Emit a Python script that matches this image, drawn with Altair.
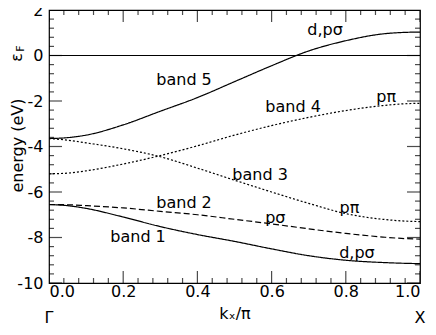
import altair as alt
import pandas as pd

# ---- data ----
k = [0.0, 0.05, 0.1, 0.2, 0.3, 0.4, 0.5, 0.6, 0.7, 0.8, 0.9, 0.95, 1.0]
band1 = [-6.55, -6.60, -6.72, -7.10, -7.52, -7.87, -8.17, -8.50, -8.80, -9.00, -9.10, -9.13, -9.15]
band2 = [-6.55, -6.56, -6.60, -6.70, -6.85, -7.00, -7.20, -7.40, -7.62, -7.82, -7.98, -8.04, -8.07]
band3 = [-3.65, -3.72, -3.84, -4.10, -4.45, -4.95, -5.48, -6.00, -6.50, -6.95, -7.20, -7.27, -7.30]
band4 = [-5.20, -5.17, -5.07, -4.77, -4.40, -3.97, -3.50, -3.08, -2.72, -2.42, -2.20, -2.13, -2.10]
band5 = [-3.65, -3.61, -3.50, -3.05, -2.45, -1.85, -1.15, -0.45, 0.20, 0.65, 0.95, 1.01, 1.03]

band_names = ["band 1", "band 2", "band 3", "band 4", "band 5"]
band_values = [band1, band2, band3, band4, band5]

label_text = ["band 5", "d,pσ", "band 4", "pπ", "band 3", "pπ", "band 2", "pσ", "band 1", "d,pσ"]
label_x = [0.364, 0.744, 0.658, 0.909, 0.569, 0.810, 0.364, 0.610, 0.240, 0.830]
label_y = [-1.08, 1.10, -2.26, -1.82, -5.25, -6.70, -6.48, -7.14, -7.98, -8.68]

x_major = [0.0, 0.2, 0.4, 0.6, 0.8, 1.0]
x_minor = [round(i * 0.04, 2) for i in range(26) if i % 5 != 0]
y_major = [-10, -8, -6, -4, -2, 0, 2]
y_minor = [round(-10 + i * 0.4, 1) for i in range(31) if i % 5 != 0]

point_text = ["Γ", "X"]
point_x = [0.0, 1.0]

# ---- build tables ----
rows = []
for name, vals in zip(band_names, band_values):
    for kx, e in zip(k, vals):
        rows.append({"band": name, "k": kx, "E": e})
bands = pd.DataFrame(rows)
labels = pd.DataFrame({"text": label_text, "k": label_x, "E": label_y})
xmaj = pd.DataFrame({"k": x_major})
xmin = pd.DataFrame({"k": x_minor})
ymaj = pd.DataFrame({"E": [float(v) for v in y_major]})
ymin = pd.DataFrame({"E": y_minor})
points = pd.DataFrame({"text": point_text, "k": point_x})
ef = pd.DataFrame({"E": [0.0]})

W, H = 371, 273
FONT = "DejaVu Sans"
FS = 16

xs = alt.Scale(domain=[0, 1], nice=False, zero=False)
ys = alt.Scale(domain=[-10, 2], nice=False, zero=False)

xaxis = alt.Axis(values=x_major, format=".1f", ticks=False, domain=False, grid=False,
                 labelFont=FONT, labelFontSize=FS, labelColor="black",
                 labelBaseline="alphabetic", labelPadding=13,
                 title="kₓ/π", titleFont=FONT, titleFontSize=FS, titleFontWeight="normal",
                 titleColor="black", titlePadding=6)
yaxis = alt.Axis(values=y_major, labelExpr="'' + datum.value", ticks=False, domain=False, grid=False,
                 labelFont=FONT, labelFontSize=FS, labelColor="black", labelPadding=6,
                 title=None)

lines = alt.Chart(bands).mark_line(color="black", strokeWidth=1.2, interpolate="monotone").encode(
    x=alt.X("k:Q", scale=xs, axis=xaxis),
    y=alt.Y("E:Q", scale=ys, axis=yaxis),
    detail="band:N",
    strokeDash=alt.StrokeDash("band:N", legend=None,
                              scale=alt.Scale(domain=band_names,
                                              range=[[1, 0], [6, 3], [2, 2], [2, 2], [1, 0]])),
)

fermi = alt.Chart(ef).mark_rule(color="black", strokeWidth=1.2).encode(
    y=alt.Y("E:Q", scale=ys), x=alt.value(0), x2=alt.value(W))

def tick_x(df, ypix, length):
    return alt.Chart(df).mark_tick(color="black", thickness=1.2, size=2 * length,
                                   orient="vertical", clip=True).encode(
        x=alt.X("k:Q", scale=xs), y=alt.value(ypix))

def tick_y(df, xpix, length):
    return alt.Chart(df).mark_tick(color="black", thickness=1.2, size=2 * length,
                                   orient="horizontal", clip=True).encode(
        y=alt.Y("E:Q", scale=ys), x=alt.value(xpix))

ticks = [
    tick_x(xmaj, H, 12), tick_x(xmin, H, 5),
    tick_x(xmaj, 0, 12), tick_x(xmin, 0, 5),
    tick_y(ymaj, 0, 13), tick_y(ymin, 0, 5),
    tick_y(ymaj, W, 13), tick_y(ymin, W, 5),
]

texts = alt.Chart(labels).mark_text(font=FONT, fontSize=FS, color="black").encode(
    x=alt.X("k:Q", scale=xs), y=alt.Y("E:Q", scale=ys), text="text:N")

pts = alt.Chart(points).mark_text(font=FONT, fontSize=FS, color="black", baseline="middle").encode(
    x=alt.X("k:Q", scale=xs), y=alt.value(H + 35), text="text:N")

ytitle = alt.Chart(ef).mark_text(font=FONT, fontSize=FS, color="black", angle=270,
                                 baseline="middle").encode(
    x=alt.value(-31), y=alt.value(H / 2 - 1), text=alt.value("energy (eV)"))

eps = alt.Chart(ef).mark_text(font=FONT, fontSize=FS, color="black", angle=270,
                              baseline="middle").encode(
    y=alt.Y("E:Q", scale=ys), x=alt.value(-32), yOffset=alt.value(2), text=alt.value("ε"))
epsF = alt.Chart(ef).mark_text(font=FONT, fontSize=11, color="black", angle=270,
                               baseline="middle").encode(
    y=alt.Y("E:Q", scale=ys), x=alt.value(-28), yOffset=alt.value(-7), text=alt.value("F"))

chart = alt.layer(lines, fermi, *ticks, texts, pts, ytitle, eps, epsF).properties(
    width=W, height=H,
    autosize=alt.AutoSizeParams(type="none"),
    padding={"left": 41, "top": 2, "right": 7, "bottom": 44},
).configure_view(stroke="black", strokeWidth=1.2)

chart.save("out.html", embed_options={"renderer": "svg", "actions": False})
